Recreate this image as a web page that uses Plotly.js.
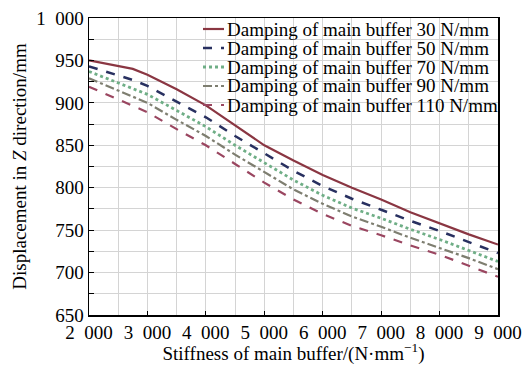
<!DOCTYPE html>
<html><head><meta charset="utf-8">
<script src="https://cdn.plot.ly/plotly-3.0.1.min.js"></script>
<style>body{margin:0;background:#fff}#c{width:524px;height:365px}</style>
</head><body><div id="c"></div>
<script>
const stiffness = [2000, 2750, 3000, 3500, 4000, 4500, 5000, 5500, 6000, 6500, 7000, 7500, 8000, 8500, 9000];
const damp30  = [950, 940, 933, 916, 897, 873, 850, 832, 815, 800, 786, 771, 758, 745, 733];
const damp50  = [943, 927, 920, 902, 883, 861, 840, 820, 802, 787, 774, 761, 749, 736, 723];
const damp70  = [937, 917, 910, 891, 872, 850, 829, 809, 791, 776, 764, 751, 739, 726, 713];
const damp90  = [929, 907, 900, 880, 861, 839, 818, 798, 781, 766, 754, 741, 729, 717, 704];
const damp110 = [919, 896, 889, 869, 850, 828, 806, 786, 769, 755, 744, 732, 721, 708, 695];
const seriesNames = ['Damping of main buffer 30 N/mm','Damping of main buffer 50 N/mm','Damping of main buffer 70 N/mm','Damping of main buffer 90 N/mm','Damping of main buffer 110 N/mm'];
const xTickVals = [2000,3000,4000,5000,6000,7000,8000,9000];
const xTickText = ['2\u2002000','3\u2002000','4\u2002000','5\u2002000','6\u2002000','7\u2002000','8\u2002000','9\u2002000'];
const yTickVals = [650,700,750,800,850,900,950,1000];
const yTickText = ['650','700','750','800','850','900','950','1\u2002000'];

const allY = [damp30, damp50, damp70, damp90, damp110];
const styles = [
  {color:'#8a3642', dash:'solid', width:2.2},
  {color:'#283060', dash:'dash', width:2.5},
  {color:'#6fae86', dash:'dot', width:2.8},
  {color:'#7e7e70', dash:'dashdot', width:2.2},
  {color:'#9a4660', dash:'dash', width:2.2}
];
const traces = allY.map((y,i)=>({x:stiffness, y:y, type:'scatter', mode:'lines', name:seriesNames[i], line:styles[i], showlegend:false}));

const FAM = 'Liberation Serif';
// pixel -> paper helpers for the hand-made legend
const L=89, R=498, T=18, B=315;
const px = v => (v-L)/(R-L);
const py = v => (B-v)/(B-T);
const shapes = [{type:'rect', xref:'paper', yref:'paper', x0:px(200), x1:px(497), y0:py(115), y1:py(19), fillcolor:'#fff', line:{width:0}, layer:'between'}];
const annotations = [];
const rowY = [29, 48, 67, 86, 105];
seriesNames.forEach((n,i)=>{
  shapes.push({type:'line', xref:'paper', yref:'paper', x0:px(203), x1:px(224), y0:py(rowY[i]), y1:py(rowY[i]), line:{color:styles[i].color, dash:styles[i].dash, width:styles[i].width}});
  annotations.push({xref:'paper', yref:'paper', x:px(225), y:py(rowY[i]), xanchor:'left', yanchor:'middle', showarrow:false, text:n, font:{family:FAM, size:19, color:'#000'}});
});

const font = {family:FAM, size:19, color:'#000'};
const layout = {
  width:524, height:365,
  margin:{l:L, r:524-R, t:T, b:365-B},
  paper_bgcolor:'#fff', plot_bgcolor:'#fff',
  font:font,
  showlegend:false,
  xaxis:{range:[2000,9000], tickvals:xTickVals, ticktext:xTickText, showline:true, linecolor:'#000', linewidth:1.5, mirror:true,
    showgrid:true, gridcolor:'#d4d4d4', gridwidth:1, ticks:'inside', ticklen:4, tickcolor:'#000', tickfont:font,
    minor:{dtick:500, tick0:2000, showgrid:true, gridcolor:'#d4d4d4', gridwidth:1},
    title:{text:'Stiffness of main buffer/(N·mm<sup>−1</sup>)', font:font, standoff:2}, zeroline:false},
  yaxis:{range:[650,1000], tickvals:yTickVals, ticktext:yTickText, showline:true, linecolor:'#000', linewidth:1.5, mirror:true,
    showgrid:true, gridcolor:'#d4d4d4', gridwidth:1, ticks:'inside', ticklen:5, tickcolor:'#000', tickfont:font,
    minor:{dtick:25, tick0:650, showgrid:true, gridcolor:'#d4d4d4', gridwidth:1, ticks:'inside', ticklen:5, tickcolor:'#000'},
    title:{text:'Displacement in <i>Z</i> direction/mm', font:font, standoff:4}, zeroline:false},
  shapes:shapes, annotations:annotations
};
Plotly.newPlot('c', traces, layout, {staticPlot:true});
</script></body></html>
